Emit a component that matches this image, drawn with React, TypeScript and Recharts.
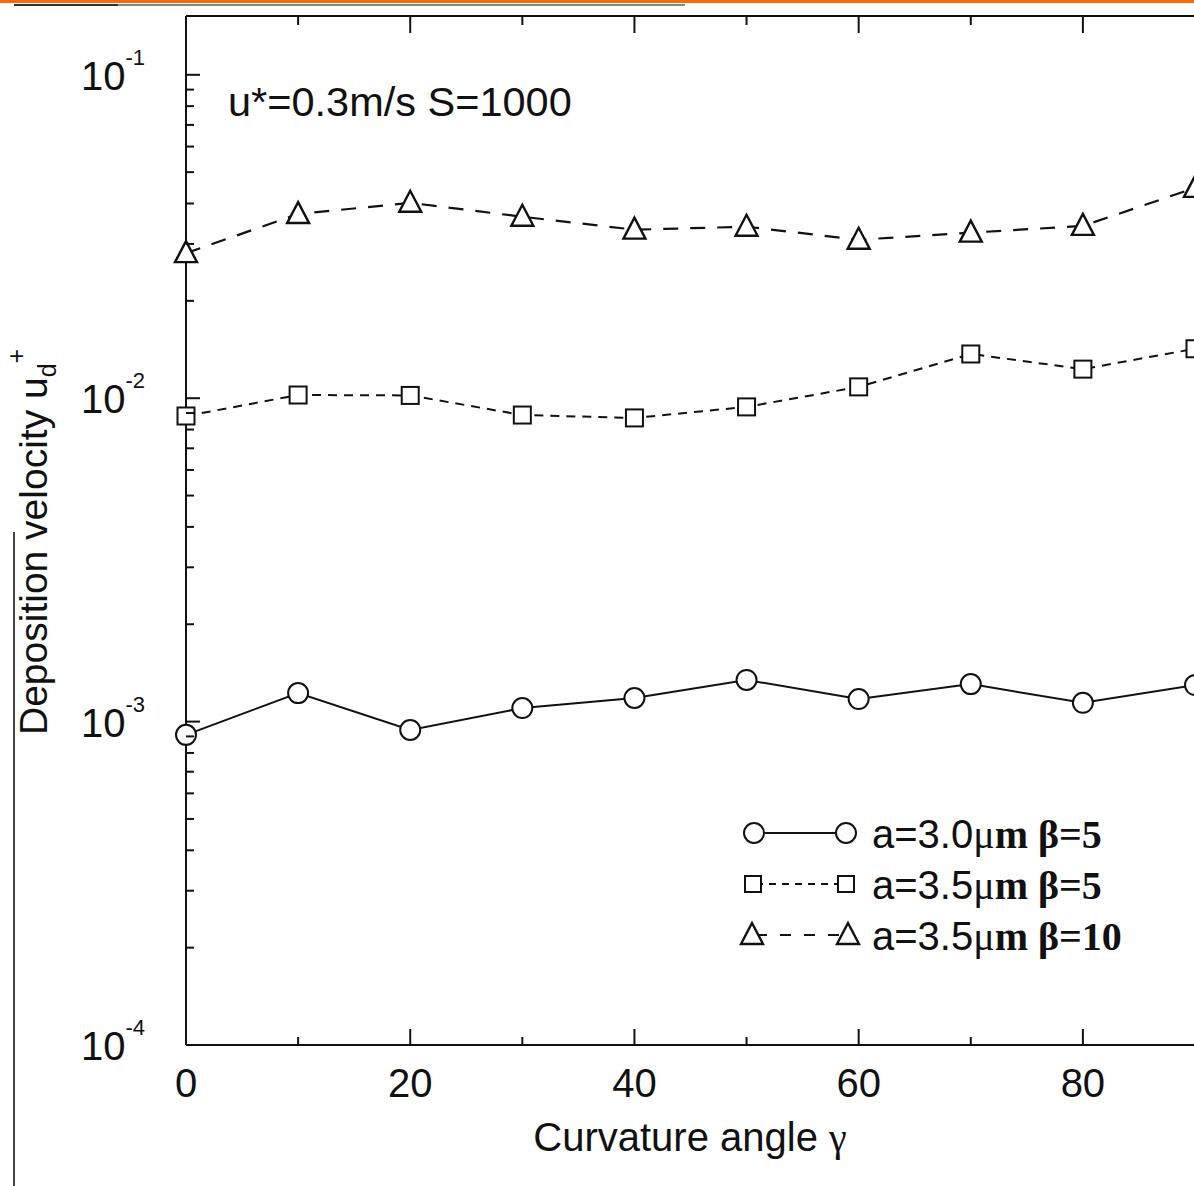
import { LineChart, Line, XAxis, YAxis } from "recharts";

// curvature angle (deg)
const angles = [0, 10, 20, 30, 40, 50, 60, 70, 80, 90];
// a=3.0um beta=5
const circleVals = [0.00091, 0.001225, 0.000942, 0.001101, 0.001183, 0.001345, 0.001174, 0.001306, 0.001143, 0.001297];
// a=3.5um beta=5
const squareVals = [0.00881, 0.01023, 0.0102, 0.00887, 0.00869, 0.0094, 0.01084, 0.0137, 0.0123, 0.01422];
// a=3.5um beta=10
const triangleVals = [0.0281, 0.0371, 0.0402, 0.0364, 0.0332, 0.0339, 0.0309, 0.0325, 0.0341, 0.0447];

const xTicks = [0, 10, 20, 30, 40, 50, 60, 70, 80, 90];
const xLabels = [0, 20, 40, 60, 80];
const decades = [-4, -3, -2];
const yTicks = [
  ...decades.flatMap((d) => [1, 2, 3, 4, 5, 6, 7, 8, 9].map((m) => +(m * Math.pow(10, d)).toPrecision(3))),
  0.1,
];

const data = angles.map((x, i) => ({
  x,
  circle: circleVals[i],
  square: squareVals[i],
  triangle: triangleVals[i],
}));

const LEFT = 186;
const RIGHT = 1195;
const TOP = 16;
const BOTTOM = 1045;
const INK = "#111";
const SANS = "'Liberation Sans', Arial, Helvetica, sans-serif";
const SERIF = "'Liberation Serif', 'Times New Roman', serif";

const isMajor = (v: number) => Math.abs(Math.log10(v) - Math.round(Math.log10(v))) < 1e-6;

const LeftTick = (props: any) => {
  const { y, payload } = props;
  const v = payload.value;
  const major = isMajor(v);
  return (
    <g>
      <line x1={LEFT} x2={LEFT + (major ? 14 : 8)} y1={y} y2={y} stroke={INK} strokeWidth={2} />
      {major && (
        <text x={145} y={y + 15} textAnchor="end" fontFamily={SANS} fontSize={40} fill={INK}>
          10
          <tspan fontSize={22} dy={-25}>
            {Math.round(Math.log10(v))}
          </tspan>
        </text>
      )}
    </g>
  );
};

const RightTick = (props: any) => {
  const { y, payload } = props;
  const major = isMajor(payload.value);
  return <line x1={RIGHT - (major ? 14 : 8)} x2={RIGHT} y1={y} y2={y} stroke={INK} strokeWidth={2} />;
};

const BottomTick = (props: any) => {
  const { x, payload } = props;
  const v = payload.value;
  const major = v % 20 === 0;
  return (
    <g>
      <line x1={x} x2={x} y1={BOTTOM} y2={BOTTOM - (major ? 16 : 8)} stroke={INK} strokeWidth={2} />
      {xLabels.includes(v) && (
        <text x={x} y={BOTTOM + 52} textAnchor="middle" fontFamily={SANS} fontSize={40} fill={INK}>
          {v}
        </text>
      )}
    </g>
  );
};

const TopTick = (props: any) => {
  const { x, payload } = props;
  const major = payload.value % 20 === 0;
  return <line x1={x} x2={x} y1={TOP} y2={TOP + (major ? 17 : 9)} stroke={INK} strokeWidth={2} />;
};

const Circle = ({ cx, cy, r = 10 }: any) => (
  <circle cx={cx} cy={cy} r={r} fill="#fff" stroke={INK} strokeWidth={2} />
);
const Square = ({ cx, cy, s = 17 }: any) => (
  <rect x={cx - s / 2} y={cy - s / 2} width={s} height={s} fill="#fff" stroke={INK} strokeWidth={2} />
);
const Triangle = ({ cx, cy }: any) => (
  <polygon
    points={`${cx},${cy - 12} ${cx - 11},${cy + 9} ${cx + 11},${cy + 9}`}
    fill="#fff"
    stroke={INK}
    strokeWidth={2.4}
    strokeLinejoin="miter"
  />
);

const Legend = () => {
  const rows = [
    { y: 833, label: "3.0", beta: "5", kind: "circle", dash: undefined },
    { y: 884, label: "3.5", beta: "5", kind: "square", dash: "7 6" },
    { y: 935, label: "3.5", beta: "10", kind: "triangle", dash: "11 13" },
  ];
  return (
    <g>
      {rows.map((r) => (
        <g key={r.y}>
          <line x1={756} x2={846} y1={r.y} y2={r.y} stroke={INK} strokeWidth={2} strokeDasharray={r.dash} />
          {r.kind === "circle" && (
            <>
              <Circle cx={754} cy={r.y} />
              <Circle cx={846} cy={r.y} />
            </>
          )}
          {r.kind === "square" && (
            <>
              <Square cx={753} cy={r.y} s={16} />
              <Square cx={846} cy={r.y} s={16} />
            </>
          )}
          {r.kind === "triangle" && (
            <>
              <Triangle cx={752} cy={r.y} />
              <Triangle cx={848} cy={r.y} />
            </>
          )}
          <text x={872} y={r.y + 15} fontFamily={SANS} fontSize={40} fill={INK}>
            a={r.label}
            <tspan fontFamily={SERIF}>μ</tspan>
            <tspan fontFamily={SERIF} fontWeight="bold">
              m β={r.beta}
            </tspan>
          </text>
        </g>
      ))}
    </g>
  );
};

export default function App() {
  return (
    <div style={{ position: "absolute", left: 0, top: 0, width: 1194, height: 1186, overflow: "hidden", background: "#fff" }}>
      <div style={{ position: "absolute", left: 0, top: 0, width: 1194, height: 3, background: "#ff6a00" }} />
      <div style={{ position: "absolute", left: 14, top: 4, width: 671, height: 2, background: "#888" }} />
      <div style={{ position: "absolute", left: 14, top: 4, width: 104, height: 2, background: "#333" }} />
      <div style={{ position: "absolute", left: 13, top: 532, width: 2, height: 654, background: "#444" }} />
      <LineChart width={1200} height={1186} data={data} margin={{ top: 0, right: 5, bottom: 0, left: 0 }}>
        <XAxis
          xAxisId="bottom"
          dataKey="x"
          type="number"
          domain={[0, 90]}
          ticks={xTicks}
          interval={0}
          height={141}
          tickLine={false}
          axisLine={{ stroke: INK, strokeWidth: 2 }}
          tick={<BottomTick />}
        />
        <XAxis
          xAxisId="top"
          orientation="top"
          dataKey="x"
          type="number"
          domain={[0, 90]}
          ticks={xTicks}
          interval={0}
          height={16}
          tickLine={false}
          axisLine={{ stroke: INK, strokeWidth: 2 }}
          tick={<TopTick />}
        />
        <YAxis
          yAxisId="left"
          type="number"
          scale="log"
          domain={[1e-4, 0.152]}
          ticks={yTicks}
          interval={0}
          width={186}
          tickLine={false}
          axisLine={{ stroke: INK, strokeWidth: 2 }}
          tick={<LeftTick />}
        />
        <YAxis
          yAxisId="right"
          orientation="right"
          type="number"
          scale="log"
          domain={[1e-4, 0.152]}
          ticks={yTicks}
          interval={0}
          width={0}
          tickLine={false}
          axisLine={{ stroke: INK, strokeWidth: 2 }}
          tick={<RightTick />}
        />
        <Line
          xAxisId="bottom"
          yAxisId="left"
          dataKey="circle"
          stroke={INK}
          strokeWidth={2}
          isAnimationActive={false}
          activeDot={false}
          dot={(p: any) => <Circle key={`c${p.index}`} cx={p.cx} cy={p.cy} />}
        />
        <Line
          xAxisId="bottom"
          yAxisId="left"
          dataKey="square"
          stroke={INK}
          strokeWidth={2}
          strokeDasharray="9 7"
          isAnimationActive={false}
          activeDot={false}
          dot={(p: any) => <Square key={`s${p.index}`} cx={p.cx} cy={p.cy} />}
        />
        <Line
          xAxisId="bottom"
          yAxisId="left"
          dataKey="triangle"
          stroke={INK}
          strokeWidth={2.2}
          strokeDasharray="15 12"
          isAnimationActive={false}
          activeDot={false}
          dot={(p: any) => <Triangle key={`t${p.index}`} cx={p.cx} cy={p.cy} />}
        />
        <text x={228} y={116} fontFamily={SANS} fontSize={41.5} fill={INK}>
          u*=0.3m/s S=1000
        </text>
        <text x={690} y={1151} textAnchor="middle" fontFamily={SANS} fontSize={40} fill={INK}>
          Curvature angle <tspan fontFamily={SERIF}>γ</tspan>
        </text>
        <text
          x={47}
          y={735}
          transform="rotate(-90, 47, 735)"
          fontFamily={SANS}
          fontSize={39}
          fill={INK}
        >
          Deposition velocity u
          <tspan fontSize={25} dy={9}>
            d
          </tspan>
          <tspan fontSize={25} dy={-31}>
            +
          </tspan>
        </text>
        <Legend />
      </LineChart>
    </div>
  );
}
